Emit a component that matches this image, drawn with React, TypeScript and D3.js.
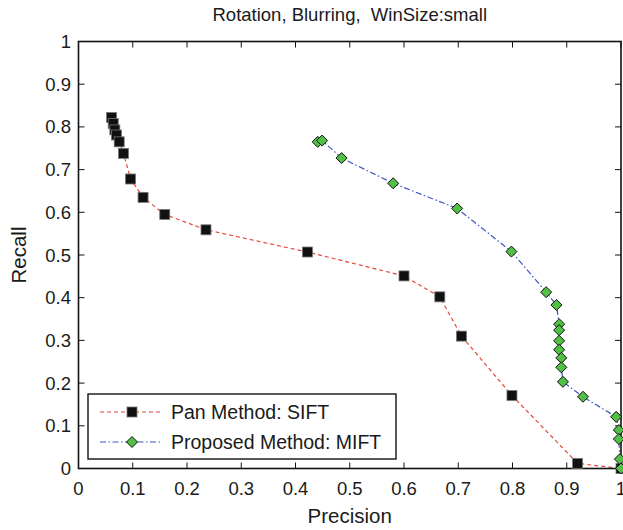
import React from "react";
import * as d3 from "d3";

const siftPrecision = [0.061, 0.064, 0.067, 0.070, 0.075, 0.083, 0.096, 0.119, 0.159, 0.235, 0.422, 0.600, 0.666, 0.706, 0.799, 0.920, 1.0];
const siftRecall = [0.822, 0.808, 0.793, 0.781, 0.765, 0.738, 0.678, 0.635, 0.595, 0.559, 0.507, 0.451, 0.402, 0.310, 0.171, 0.012, 0.0];

const miftPrecision = [0.441, 0.449, 0.485, 0.580, 0.698, 0.798, 0.862, 0.881, 0.886, 0.886, 0.886, 0.886, 0.890, 0.890, 0.893, 0.930, 0.991, 0.996, 0.996, 0.998, 1.0];
const miftRecall = [0.765, 0.768, 0.727, 0.668, 0.609, 0.508, 0.413, 0.383, 0.338, 0.324, 0.299, 0.278, 0.259, 0.237, 0.203, 0.168, 0.121, 0.090, 0.069, 0.022, 0.0];

const xTicks = [0, 0.1, 0.2, 0.3, 0.4, 0.5, 0.6, 0.7, 0.8, 0.9, 1];
const yTicks = [0, 0.1, 0.2, 0.3, 0.4, 0.5, 0.6, 0.7, 0.8, 0.9, 1];
const seriesNames = ["Pan Method: SIFT", "Proposed Method: MIFT"];
const titleText = "Rotation, Blurring,  WinSize:small";
const xLabel = "Precision";
const yLabel = "Recall";

const W = 623, H = 530;
const L = 78.5, R = 621, T = 41.5, B = 468.5;
const FONT = "'Liberation Sans', Arial, Helvetica, sans-serif";
const RED = "#e5463c";
const BLUE = "#3b57c4";
const GREEN = "#52c044";

export default function App() {
  const x = d3.scaleLinear().domain([0, 1]).range([L, R]);
  const y = d3.scaleLinear().domain([0, 1]).range([B, T]);
  const fmt = (v: number) => (v === 0 || v === 1 ? String(v) : d3.format(".1f")(v));

  const sift = siftPrecision.map((p, i) => [p, siftRecall[i]] as [number, number]);
  const mift = miftPrecision.map((p, i) => [p, miftRecall[i]] as [number, number]);
  const line = d3.line<[number, number]>().x(d => x(d[0])).y(d => y(d[1]));
  const tk = 6;
  const diamond = (cx: number, cy: number, r: number) =>
    `M${cx},${cy - r}L${cx + r},${cy}L${cx},${cy + r}L${cx - r},${cy}Z`;

  const legX = 88, legY = 394, legW = 308, legH = 65;
  const row1 = 412, row2 = 442;

  return (
    <svg width={W} height={H} style={{ position: "absolute", left: 0, top: 0, background: "#fff" }} fontFamily={FONT}>
      <rect x={0} y={0} width={W} height={H} fill="#fff" />
      <text x={(L + R) / 2} y={21} textAnchor="middle" fontSize={18.5} fill="#1a1a1a" style={{ whiteSpace: "pre" }}>{titleText}</text>

      {/* ticks */}
      {xTicks.map((t, i) => (
        <g key={"xt" + i}>
          <line x1={x(t)} x2={x(t)} y1={B} y2={B - tk} stroke="#111" strokeWidth={1} />
          <line x1={x(t)} x2={x(t)} y1={T} y2={T + tk} stroke="#111" strokeWidth={1} />
          <text x={x(t)} y={495} textAnchor="middle" fontSize={18.5} fill="#1a1a1a">{fmt(t)}</text>
        </g>
      ))}
      {yTicks.map((t, i) => (
        <g key={"yt" + i}>
          <line x1={L} x2={L + tk} y1={y(t)} y2={y(t)} stroke="#111" strokeWidth={1} />
          <line x1={R} x2={R - tk} y1={y(t)} y2={y(t)} stroke="#111" strokeWidth={1} />
          <text x={71} y={y(t) + 6.5} textAnchor="end" fontSize={18.5} fill="#1a1a1a">{fmt(t)}</text>
        </g>
      ))}

      <text x={(L + R) / 2} y={523} textAnchor="middle" fontSize={20.5} fill="#1a1a1a">{xLabel}</text>
      <text transform={`translate(26,${(T + B) / 2}) rotate(-90)`} textAnchor="middle" fontSize={20.5} fill="#1a1a1a">{yLabel}</text>

      {/* series lines */}
      <path d={line(sift) || ""} fill="none" stroke={RED} strokeWidth={1.2} strokeDasharray="4,3" />
      <path d={line(mift) || ""} fill="none" stroke={BLUE} strokeWidth={1.2} strokeDasharray="6,2.5,1.5,2.5" />

      {/* frame */}
      <rect x={L} y={T} width={R - L} height={B - T} fill="none" stroke="#111" strokeWidth={1.6} />

      {/* markers */}
      {sift.map((d, i) => (
        <rect key={"s" + i} x={x(d[0]) - 5} y={y(d[1]) - 5} width={10} height={10} fill="#111" stroke="#777" strokeWidth={0.8} />
      ))}
      {mift.map((d, i) => (
        <path key={"m" + i} d={diamond(x(d[0]), y(d[1]), 5.5)} fill={GREEN} stroke="#111" strokeWidth={1} />
      ))}

      {/* legend */}
      <rect x={legX} y={legY} width={legW} height={legH} fill="#fff" stroke="#111" strokeWidth={1.4} />
      <line x1={100} x2={162} y1={row1} y2={row1} stroke={RED} strokeWidth={1.2} strokeDasharray="4,3" />
      <rect x={132 - 5} y={row1 - 5} width={10} height={10} fill="#111" stroke="#777" strokeWidth={0.8} />
      <text x={171} y={row1 + 7} fontSize={19.5} fill="#1a1a1a">{seriesNames[0]}</text>
      <line x1={100} x2={162} y1={row2} y2={row2} stroke={BLUE} strokeWidth={1.2} strokeDasharray="6,2.5,1.5,2.5" />
      <path d={diamond(132, row2, 5.5)} fill={GREEN} stroke="#111" strokeWidth={1} />
      <text x={171} y={row2 + 7} fontSize={19.5} fill="#1a1a1a">{seriesNames[1]}</text>
    </svg>
  );
}
